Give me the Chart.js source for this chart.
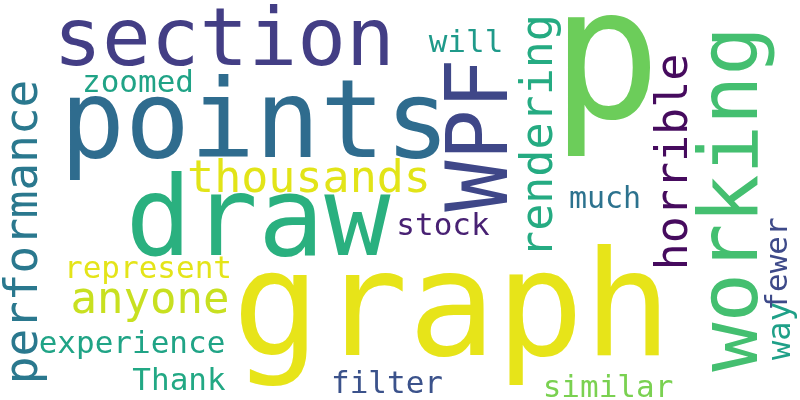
<!DOCTYPE html>
<html>
<head>
<meta charset="utf-8">
<script src="https://cdn.jsdelivr.net/npm/chart.js@4"></script>
<style>
html,body{margin:0;padding:0;background:#fff;}
#wrap{width:800px;height:400px;position:relative;}
</style>
</head>
<body>
<div id="wrap"><canvas id="c"></canvas></div>
<script>
// Word cloud data
const words    = ["section","points","draw","graph","p","thousands","zoomed","will","WPF","rendering","horrible","working","much","stock","represent","anyone","experience","Thank","filter","similar","performance","fewer","way"];
const weights  = [81,108,110,146,183,45,31,31,85,45,45,82,30,31,31,44,31,31,31,31,46,31,32];
const wordX    = [224,255,258,452,606,309,138,466,507,552,687,757,605,443,148,150,132,179,387,608,37,787,790];
const wordY    = [65,157,255,355,118,192,92,52,135,136,162,199,208,235,278,313,353,390,393,397,232,264,331];
const vertical = [0,0,0,0,0,0,0,0,1,1,1,1,0,0,0,0,0,0,0,0,1,1,1];
const colors   = ["#433e85","#2f6c8e","#2ab07f","#e7e419","#6ccd5a","#e2e418","#20a386","#1f9a8a","#3f4788","#25ab82","#460b5e","#44bf70","#2c728e","#482173","#e4e419","#c8e020","#20a486","#22a884","#3b528b","#7ad151","#2a788e","#3e4a89","#1fa088"];

const wordPlugin = {
  id: 'wordPlugin',
  afterDatasetsDraw(chart) {
    const ctx = chart.ctx;
    const xs = chart.scales.x, ys = chart.scales.y;
    const meta = chart.getDatasetMeta(0);
    meta.data.forEach((pt, i) => {
      const px = xs.getPixelForValue(wordX[i]);
      const py = ys.getPixelForValue(wordY[i]);
      ctx.save();
      ctx.fillStyle = colors[i];
      ctx.font = weights[i] + 'px "DejaVu Sans Mono"';
      ctx.textAlign = 'center';
      ctx.textBaseline = 'alphabetic';
      ctx.translate(px, py);
      if (vertical[i]) ctx.rotate(-Math.PI / 2);
      ctx.fillText(words[i], 0, 0);
      ctx.restore();
    });
  }
};

new Chart(document.getElementById('c'), {
  type: 'scatter',
  data: {
    datasets: [{
      data: words.map((w, i) => ({x: wordX[i], y: wordY[i]})),
      pointRadius: 0,
      pointHoverRadius: 0
    }]
  },
  options: {
    responsive: true,
    maintainAspectRatio: false,
    animation: false,
    events: [],
    layout: {padding: 0},
    plugins: {legend: {display: false}, tooltip: {enabled: false}},
    scales: {
      x: {type: 'linear', min: 0, max: 800, display: false},
      y: {type: 'linear', min: 0, max: 400, reverse: true, display: false}
    }
  },
  plugins: [wordPlugin]
});
</script>
</body>
</html>
